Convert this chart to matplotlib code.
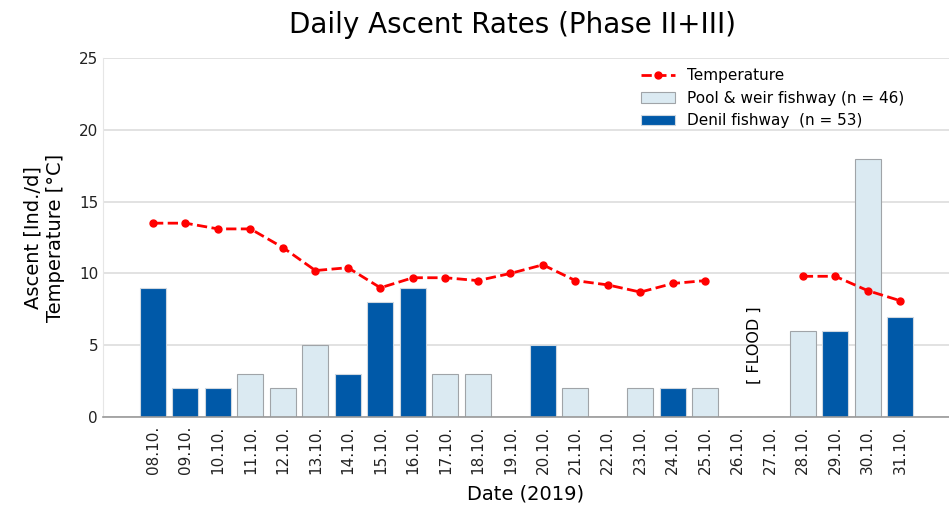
import numpy as np
import matplotlib
matplotlib.use("Agg")
import matplotlib.pyplot as plt

dates = ['08.10.', '09.10.', '10.10.', '11.10.', '12.10.', '13.10.', '14.10.', '15.10.',
         '16.10.', '17.10.', '18.10.', '19.10.', '20.10.', '21.10.', '22.10.', '23.10.',
         '24.10.', '25.10.', '26.10.', '27.10.', '28.10.', '29.10.', '30.10.', '31.10.']

pool_weir = [0, 0, 0, 3, 2, 5, 0, 0, 0, 3, 3, 0, 0, 2, 0, 2, 0, 2, 0, 0, 6, 0, 18, 0]
denil = [9, 2, 2, 0, 0, 0, 3, 8, 9, 0, 0, 0, 5, 0, 0, 0, 2, 0, 0, 0, 0, 6, 0, 7]
temperature = [13.5, 13.5, 13.1, 13.1, 11.8, 10.2, 10.4, 9.0, 9.7, 9.7, 9.5, 10.0,
               10.6, 9.5, 9.2, 8.7, 9.3, 9.5, np.nan, np.nan, 9.8, 9.8, 8.8, 8.1]

x = np.arange(len(dates))

fig = plt.figure(figsize=(9.49, 5.09), dpi=100)
ax = fig.add_axes([0.1085, 0.1807, 0.8915, 0.7053])

ax.plot(x, temperature, color='red', linestyle='--', linewidth=2, marker='o',
        markersize=5, label='Temperature', zorder=3)
ax.bar(x, pool_weir, width=0.8, color='#dbeaf2', edgecolor='#a0a4a8', linewidth=0.8,
       label='Pool & weir fishway (n = 46)', zorder=2)
ax.bar(x, denil, width=0.8, color='#0059a8', edgecolor='#cfd8e0', linewidth=0.8,
       label='Denil fishway  (n = 53)', zorder=2)

ax.text(18.5, 5, '[ FLOOD ]', rotation=90, ha='center', va='center', fontsize=11.5)

ax.set_ylim(0, 25)
ax.set_xlim(-1.54, 24.5)
ax.set_yticks([0, 5, 10, 15, 20, 25])
ax.set_xticks(x)
ax.set_xticklabels(dates, rotation=90)
ax.tick_params(axis='both', labelsize=11, length=0, colors='#222222')
ax.tick_params(axis='x', pad=6)

ax.grid(axis='y', color='#dddddd', linewidth=1.2, zorder=0)
ax.set_axisbelow(True)
for side in ['top', 'right']:
    ax.spines[side].set_visible(False)
ax.spines['left'].set_color('#e6e6e6')
ax.spines['bottom'].set_color('#999999')
ax.spines['bottom'].set_linewidth(1.2)

ax.set_ylabel('Ascent [Ind./d]\nTemperature [°C]', fontsize=14, labelpad=10)
ax.set_xlabel('Date (2019)', fontsize=14, labelpad=8)
fig.text(0.54, 0.95, 'Daily Ascent Rates (Phase II+III)', fontsize=20,
         ha='center', va='center')

ax.legend(loc='upper left', bbox_to_anchor=(0.62, 1.01), frameon=False,
          fontsize=11, handlelength=2.2)

plt.savefig('out.png', dpi=100)
